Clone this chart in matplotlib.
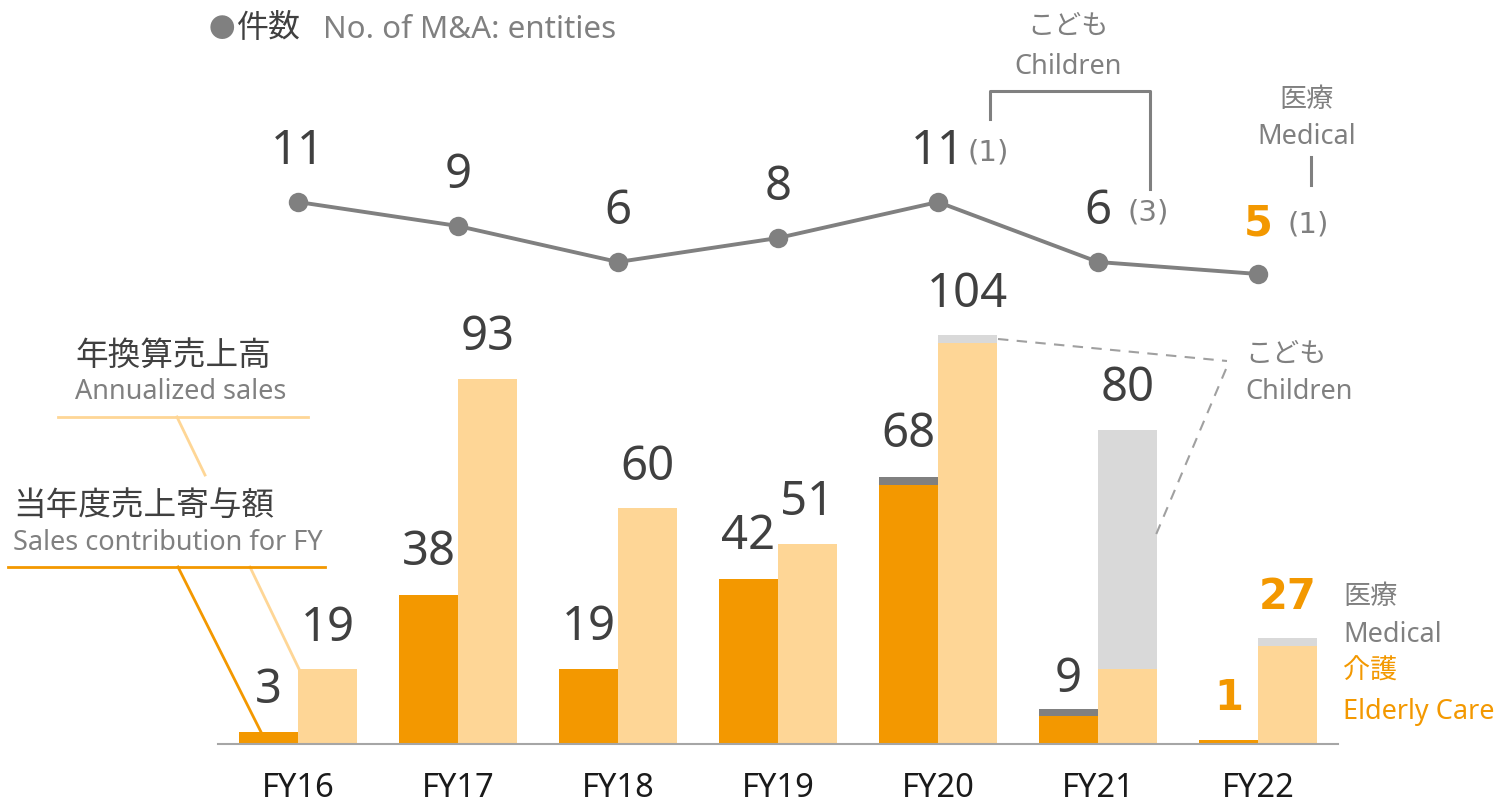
import matplotlib
matplotlib.use('Agg')
import matplotlib.pyplot as plt
import numpy as np

plt.rcParams['font.family'] = ['Noto Sans', 'Noto Sans CJK JP', 'DejaVu Sans']

years = ['FY16', 'FY17', 'FY18', 'FY19', 'FY20', 'FY21', 'FY22']
deals = [11, 9, 6, 8, 11, 6, 5]
deals_other = ['', '', '', '', '(1)', '(3)', '(1)']

contrib_care = [3, 38, 19, 42, 66, 7, 1]
contrib_other = [0, 0, 0, 0, 2, 2, 0]
annual_care = [19, 93, 60, 51, 102, 19, 25]
annual_other = [0, 0, 0, 0, 2, 61, 2]

ORANGE = '#F39800'
LIGHT = '#FED696'
GREY_D = '#808080'
GREY_L = '#D9D9D9'
TXT = '#404040'
GTXT = '#808080'

W, H = 1504, 803
BIG = 34


def fp(x, y):
    # pixel (from top-left) -> figure fraction
    return x / W, 1 - y / H


def num_style(last):
    # the latest year is highlighted in bold orange
    if last:
        return dict(color=ORANGE, fontweight='bold', family='DejaVu Sans', fontsize=BIG - 4)
    return dict(color=TXT, fontsize=BIG)


fig = plt.figure(figsize=(W / 100, H / 100), dpi=100)

# bar axes: category i centred at pixel 298 + 160*i, baseline at pixel 745
ax = fig.add_axes([0, 0, 1, 1])
ax.set_xlim(-298 / 160, (W - 298) / 160)
ppu = 3.93
ax.set_ylim(-(H - 745) / ppu, 745 / ppu)
ax.axis('off')

x = np.arange(len(years))
w = 59 / 160
cc = np.array(contrib_care)
co = np.array(contrib_other)
ac = np.array(annual_care)
ao = np.array(annual_other)

ax.bar(x - w / 2, cc, w, color=ORANGE, linewidth=0)
ax.bar(x - w / 2, co, w, bottom=cc, color=GREY_D, linewidth=0)
ax.bar(x + w / 2, ac, w, color=LIGHT, linewidth=0)
ax.bar(x + w / 2, ao, w, bottom=ac, color=GREY_L, linewidth=0)
ax.plot([-0.5, 6.5], [0, 0], color='#A6A6A6', lw=1.5)

for i, yr in enumerate(years):
    ax.annotate(yr, (i, 0), xytext=(0, -44), textcoords='offset pixels',
                ha='center', va='center', fontsize=23.5, color='#1A1A1A')
    ct = cc[i] + co[i]
    at = ac[i] + ao[i]
    last = i == len(years) - 1
    dy = 30 if i == 5 else 43
    ax.annotate(str(ct), (i - w / 2, ct), xytext=(0, dy), textcoords='offset pixels',
                ha='center', va='center', **num_style(last))
    ax.annotate(str(at), (i + w / 2, at), xytext=(0, 42), textcoords='offset pixels',
                ha='center', va='center', **num_style(last))

# line axes: 12 px per entity, 0 at pixel 335
ax2 = fig.add_axes([0, 0, 1, 1])
ax2.set_xlim(ax.get_xlim())
ax2.set_ylim(-(H - 335) / 12, 335 / 12)
ax2.patch.set_alpha(0)
ax2.axis('off')
ax2.plot(x, deals, color=GREY_D, lw=2.8, marker='o', markersize=14,
         markerfacecolor=GREY_D, markeredgewidth=0)
for i, n in enumerate(deals):
    last = i == len(deals) - 1
    ax2.annotate(str(n), (i, n), xytext=(0, 51), textcoords='offset pixels',
                 ha='center', va='center', **num_style(last))
    if deals_other[i]:
        ax2.annotate(deals_other[i], (i, n), xytext=(30 if n > 9 else 29, 50),
                     textcoords='offset pixels', ha='left', va='center',
                     fontsize=21, color=GTXT, family='DejaVu Sans')


def fline(pts, **kw):
    xs, ys = zip(*[fp(px, py) for px, py in pts])
    fig.add_artist(plt.Line2D(xs, ys, transform=fig.transFigure, **kw))


def ftext(px, py, s, **kw):
    fig.text(*fp(px, py), s, va='center', **kw)


SMALL = 19.5

# header
ftext(209, 30, '●', fontsize=19, color=GREY_D)
ftext(237, 29, '件数', fontsize=23, color=TXT)
ftext(323, 30, 'No. of M&A: entities', fontsize=22.5, color=GTXT)

# children bracket (counts)
ftext(1068, 27, 'こども', fontsize=SMALL, color=GTXT, ha='center')
ftext(1068, 67, 'Children', fontsize=SMALL, color=GTXT, ha='center')
fline([(990, 120), (990, 92), (1150, 92), (1150, 190)], color=GREY_D, lw=2.2)

# medical (counts)
ftext(1307, 100, '医療', fontsize=SMALL, color=GTXT, ha='center')
ftext(1307, 137, 'Medical', fontsize=SMALL, color=GTXT, ha='center')
fline([(1311, 158), (1311, 186)], color=GREY_D, lw=2.2)

# children (sales)
ftext(1245, 355, 'こども', fontsize=SMALL, color=GTXT)
ftext(1245, 392, 'Children', fontsize=SMALL, color=GTXT)
fline([(998, 340), (1227, 362)], color='#A0A0A0', lw=1.5, ls=(0, (5, 4)))
fline([(1226, 370), (1155, 538)], color='#A0A0A0', lw=1.5, ls=(0, (5, 4)))

# right legend
ftext(1343, 597, '医療', fontsize=SMALL, color=GTXT)
ftext(1343, 635, 'Medical', fontsize=SMALL, color=GTXT)
ftext(1343, 672, '介護', fontsize=SMALL, color=ORANGE)
ftext(1343, 712, 'Elderly Care', fontsize=SMALL, color=ORANGE)

# left labels
ftext(75, 356, '年換算売上高', fontsize=23.5, color=TXT)
ftext(75, 392, 'Annualized sales', fontsize=SMALL, color=GTXT)
fline([(58, 418), (308, 418)], color=LIGHT, lw=2)
fline([(177, 418), (205, 476)], color=LIGHT, lw=2)
fline([(250, 568), (299, 670)], color=LIGHT, lw=2)

ftext(13, 506, '当年度売上寄与額', fontsize=23.5, color=TXT)
ftext(13, 543, 'Sales contribution for FY', fontsize=SMALL, color=GTXT)
fline([(8, 568), (325, 568)], color=ORANGE, lw=2)
fline([(178, 568), (261, 733)], color=ORANGE, lw=2)

fig.savefig('out.png', dpi=100)
